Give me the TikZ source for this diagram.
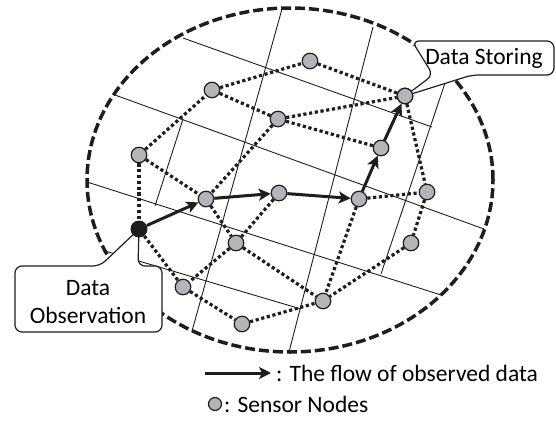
\documentclass[tikz,border=0pt]{standalone}
\usepackage{fontspec}
\setmainfont{Carlito}
\usepackage{tikz}
\usetikzlibrary{arrows.meta}
\definecolor{NodeGray}{RGB}{180,181,184}
\definecolor{LineBlack}{RGB}{30,30,30}

\begin{document}
\begin{tikzpicture}[x=1pt,y=-1pt,
	sensor/.style={circle,draw=LineBlack,line width=1.2pt,fill=NodeGray,minimum size=15.5pt,inner sep=0pt},
	source/.style={circle,fill=LineBlack,minimum size=17pt,inner sep=0pt},
	link/.style={line width=3.2pt,dash pattern=on 3.2pt off 2.6pt,LineBlack},
	flow/.style={line width=3pt,LineBlack,-{Stealth[length=12pt,width=12pt,inset=3pt]}},
	grid line/.style={line width=0.9pt,LineBlack},
	callout/.style={draw=LineBlack,line width=1.2pt,fill=white,rounded corners=7pt},
	label/.style={font=\fontsize{23.5}{28}\selectfont,inner sep=2pt}]
	\useasboundingbox (0,0) rectangle (556,423);

	% 区域
	\draw[LineBlack,line width=3.5pt,dash pattern=on 10pt off 4pt] (290,180) ellipse [x radius=203pt,y radius=172pt];

	% 网格
	\draw[grid line] (183,38) -- (432,127);
	\draw[grid line] (115,95) -- (484,229);
	\draw[grid line] (87,182) -- (441,295);
	\draw[grid line] (105,251) -- (301,309);
	\draw[grid line] (155,206) -- (183,119);
	\draw[grid line] (282,9) -- (192,331);
	\draw[grid line] (373,27) -- (289,352);
	\draw[grid line] (446,80) -- (381,274);

	% 传感器节点
	\node[sensor] (s1) at (212,90) {};
	\node[sensor] (s2) at (278,119) {};
	\node[sensor] (s3) at (139,155) {};
	\node[sensor] (s4) at (206,199) {};
	\node[sensor] (s5) at (279,193) {};
	\node[sensor] (s6) at (236,243) {};
	\node[sensor] (s7) at (183,287) {};
	\node[sensor] (s8) at (242,324) {};
	\node[sensor] (s9) at (310,61) {};
	\node[sensor] (s11) at (381,148) {};
	\node[sensor] (s12) at (359,199) {};
	\node[sensor] (s13) at (427,192) {};
	\node[sensor] (s14) at (411,243) {};
	\node[sensor] (s15) at (323,301) {};
	\node[sensor] (store) at (405,96) {};

	% 虚线连接
	\draw[link] (s3) -- (s1);
	\draw[link] (s1) -- (s2);
	\draw[link] (s1) -- (s9);
	\draw[link] (s9) -- (store);
	\draw[link] (s2) -- (store);
	\draw[link] (s2) -- (s11);
	\draw[link] (s2) -- (s4);
	\draw[link] (s3) -- (s4);
	\draw[link] (s4) -- (s6);
	\draw[link] (s5) -- (s6);
	\draw[link] (s6) -- (s7);
	\draw[link] (s7) -- (s8);
	\draw[link] (s8) -- (s15);
	\draw[link] (s6) -- (s15);
	\draw[link] (s12) -- (s15);
	\draw[link] (s12) -- (s13);
	\draw[link] (store) -- (s13);
	\draw[link] (s13) -- (s14);
	\draw[link] (s14) -- (s15);

	% 标注框
	\draw[callout] (412,41) -- (433,75) -- (store.center) -- (472,75) -- (554,75) -- (554,41) -- cycle;
	\draw[callout] (15,266) -- (100,266) -- (139,229) -- (138,266) -- (162,266) -- (162,332) -- (15,332) -- cycle;
	\node[label] (storing) at (484,58) {Data Storing};
	\node[label,align=center] (observing) at (88,302) {Data\\Observation};

	% 观测节点
	\node[source] (obs) at (139,229) {};
	\draw[link] (s3) -- (obs);
	\draw[link] (obs) -- (s7);
	\node[sensor] at (store) {};

	% 数据流
	\draw[flow] (obs) -- (s4);
	\draw[flow] (s4) -- (s5);
	\draw[flow] (s5) -- (s12);
	\draw[flow] (s12) -- (s11);
	\draw[flow] (s11) -- (store);

	% 图例
	\coordinate (legstart) at (205,373);
	\node[label,anchor=west] (legflow) at (274,373) {: The flow of observed data};
	\draw[flow,shorten >=3pt] (legstart) -- (legflow.west);
	\node[sensor,minimum size=13pt] (legnode) at (215,404) {};
	\node[label,anchor=west] (legsensor) at (222,404) {: Sensor Nodes};
\end{tikzpicture}
\end{document}
